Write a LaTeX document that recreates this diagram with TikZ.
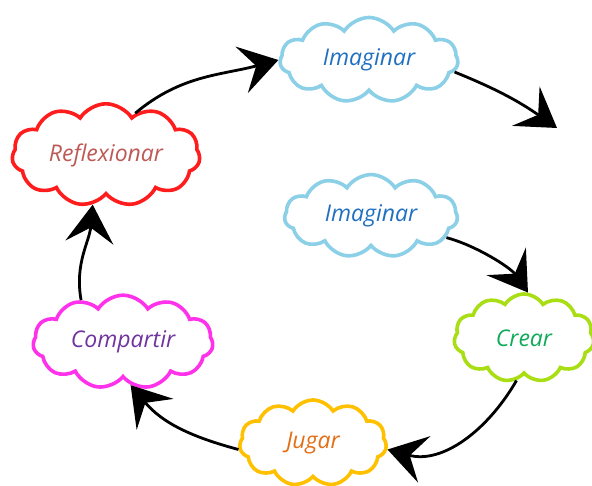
\documentclass[tikz,border=0pt]{standalone}
\usepackage{fontspec}
\setmainfont{Open Sans}
\usetikzlibrary{shapes.symbols,arrows.meta}
\definecolor{skyline}{RGB}{140,208,232}
\definecolor{skytext}{RGB}{31,112,192}
\definecolor{redline}{RGB}{255,28,28}
\definecolor{redtext}{RGB}{190,90,85}
\definecolor{limeline}{RGB}{170,222,20}
\definecolor{limetext}{RGB}{16,170,90}
\definecolor{pinkline}{RGB}{255,50,235}
\definecolor{pinktext}{RGB}{112,52,160}
\definecolor{goldline}{RGB}{255,192,0}
\definecolor{goldtext}{RGB}{228,110,20}
\tikzset{
  puff/.style={cloud, cloud puffs=11, cloud puff arc=115, aspect=2,
    draw=#1, line width=3.6pt, fill=white, inner sep=0pt,
    font=\itshape\fontsize{23}{27}\selectfont},
  cycle/.style={line width=2.8pt, black,
    -{Stealth[length=38pt,width=48pt,inset=15pt]}}
}
\begin{document}
\begin{tikzpicture}[x=1pt,y=1pt]
\useasboundingbox (0,0) rectangle (592,486);
\clip (0,0) rectangle (592,486);

% the six stages
\node[puff=skyline, minimum width=178pt, minimum height=85pt, text=skytext] (img1) at (369,426) {Imaginar};
\node[puff=redline, minimum width=188pt, minimum height=85pt, text=redtext] (refl) at (106,331) {Reflexionar};
\node[puff=skyline, minimum width=173pt, minimum height=82pt, text=skytext] (img2) at (371,270) {Imaginar};
\node[puff=limeline, minimum width=140pt, minimum height=88pt, text=limetext] (crear) at (524,148) {Crear};
\node[puff=pinkline, minimum width=180pt, minimum height=90pt, text=pinktext] (comp) at (123,144) {Compartir};
\node[puff=goldline, minimum width=147pt, minimum height=86pt, text=goldtext] (jugar) at (313,43) {Jugar};

\coordinate (loose) at (557,358);

% connectors of the cycle
\draw[cycle] (refl.55) to[out=40,in=195] (img1.west);
\draw[cycle] (img1.-8) to[out=-22,in=145] (loose);
\draw[cycle] (img2.-16) to[out=-15,in=125,looseness=0.8] (crear.85);
\draw[cycle] (crear.-100) to[out=-120,in=-15] (jugar.-5);
\draw[cycle] (jugar.185) to[out=165,in=-50] (comp.-80);
\draw[cycle] (comp.135) to[out=100,in=-95] (refl.-105);
\end{tikzpicture}
\end{document}
